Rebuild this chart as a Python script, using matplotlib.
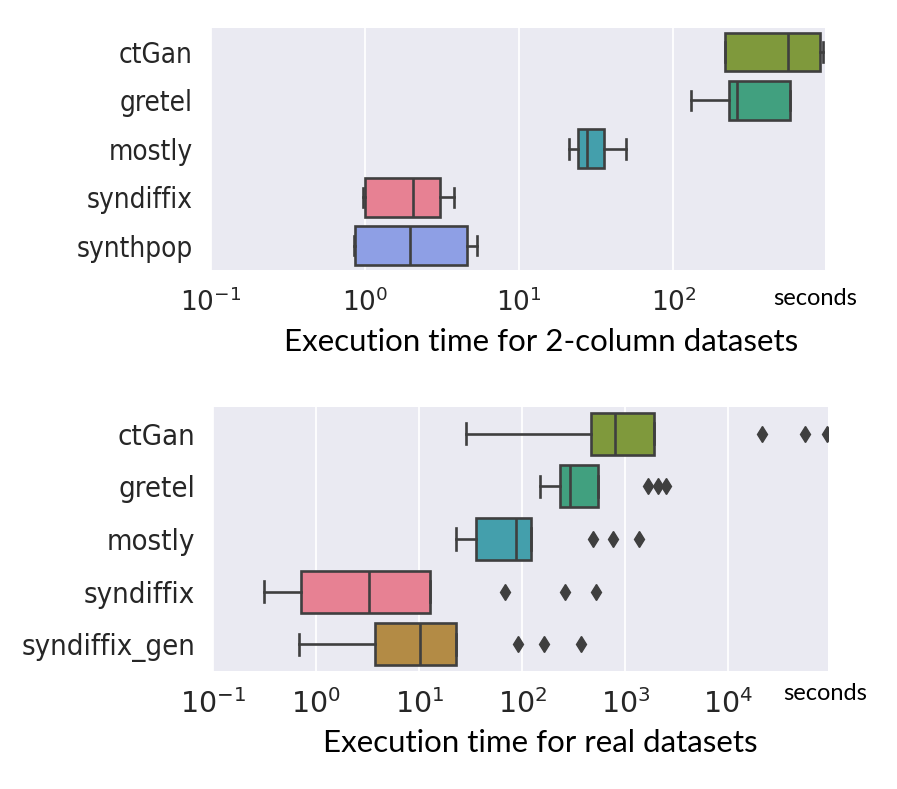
import matplotlib
matplotlib.use("Agg")
import matplotlib.pyplot as plt
import numpy as np

plt.rcParams["mathtext.fontset"] = "custom"
plt.rcParams["mathtext.rm"] = "DejaVu Sans:stretch=condensed"
plt.rcParams["mathtext.it"] = "DejaVu Sans:stretch=condensed:italic"
plt.rcParams["mathtext.bf"] = "DejaVu Sans:stretch=condensed:bold"
plt.rcParams["mathtext.default"] = "rm"

# ---------------- data ----------------
cats_top = ["ctGan", "gretel", "mostly", "syndiffix", "synthpop"]
top_whislo = [217, 129, 21.1, 0.97, 0.845]
top_q1 = [217, 229, 24.0, 1.0, 0.861]
top_med = [550, 257, 27.5, 2.05, 1.97]
top_q3 = [891, 569, 35.6, 3.05, 4.57]
top_whishi = [927, 569, 49.2, 3.79, 5.33]
top_fliers = [[], [], [], [], []]
top_colors = ["#7f993c", "#41a07f", "#449fac", "#e78193", "#8e9fe5"]

cats_bot = ["ctGan", "gretel", "mostly", "syndiffix", "syndiffix_gen"]
bot_whislo = [28.2, 147, 22.5, 0.313, 0.68]
bot_q1 = [459, 230, 35.4, 0.71, 3.68]
bot_med = [791, 288, 87.5, 3.22, 10.1]
bot_q3 = [1880, 537, 120, 12.6, 22.6]
bot_whishi = [1880, 537, 120, 12.6, 22.6]
bot_fliers = [[21200, 55100, 90000],
              [1657, 2090, 2478],
              [481, 752, 1365],
              [68.4, 261, 522],
              [90.2, 162, 370]]
bot_colors = ["#7f993c", "#41a07f", "#449fac", "#e78193", "#b38b45"]

top_xlim = (0.1, 960)
bot_xlim = (0.1, 93300)
title_top = "Execution time for 2-column datasets"
title_bot = "Execution time for real datasets"
unit_label = "seconds"

W, H = 897, 789
fig = plt.figure(figsize=(W / 100, H / 100), dpi=100)
fig.patch.set_facecolor("white")

def px_axes(left, top, right, bottom):
    return fig.add_axes([left / W, (H - bottom) / H, (right - left) / W, (bottom - top) / H])

LINE = "#3f3f3f"

def draw_panel(ax, cats, wlo, q1, med, q3, whi, fliers, colors, xlim, xfs, yfs):
    stats = []
    for i, c in enumerate(cats):
        stats.append(dict(label=c, whislo=wlo[i], q1=q1[i], med=med[i],
                          q3=q3[i], whishi=whi[i], fliers=fliers[i]))
    pos = np.arange(len(cats))
    bp = ax.bxp(stats, positions=pos, widths=0.8, orientation="horizontal",
                patch_artist=True, showfliers=True,
                boxprops=dict(edgecolor=LINE, linewidth=1.9),
                medianprops=dict(color=LINE, linewidth=1.9),
                whiskerprops=dict(color=LINE, linewidth=1.9),
                capprops=dict(color=LINE, linewidth=1.9),
                flierprops=dict(marker="d", markerfacecolor=LINE,
                                markeredgecolor=LINE, markersize=8.5, linestyle="none"))
    for patch, col in zip(bp["boxes"], colors):
        patch.set_facecolor(col)
    ax.set_xscale("log")
    ax.set_xlim(*xlim)
    ax.set_ylim(len(cats) - 0.5, -0.5)
    ax.set_yticks(pos)
    ax.set_yticklabels(cats, fontsize=yfs, fontstretch="condensed",
                       family="DejaVu Sans")
    ax.set_facecolor("#eaeaf2")
    for s in ax.spines.values():
        s.set_visible(False)
    ax.grid(True, axis="x", which="major", color="white", linewidth=1.3)
    ax.grid(False, axis="y")
    ax.set_axisbelow(True)
    ax.xaxis.set_minor_locator(matplotlib.ticker.NullLocator())
    ax.tick_params(axis="both", which="both", length=0, colors="#262626")
    ax.tick_params(axis="x", labelsize=xfs, pad=13)
    ax.tick_params(axis="y", pad=13)

ax1 = px_axes(210.7, 27.7, 825, 270)
draw_panel(ax1, cats_top, top_whislo, top_q1, top_med, top_q3, top_whishi,
           top_fliers, top_colors, top_xlim, 19, 20)

ax2 = px_axes(213.3, 407.3, 828.3, 670.7)
draw_panel(ax2, cats_bot, bot_whislo, bot_q1, bot_med, bot_q3, bot_whishi,
           bot_fliers, bot_colors, bot_xlim, 20.5, 21)

TF = "Lato"
fig.text(541 / W, 1 - 342 / H, title_top, ha="center", va="center",
         fontsize=22.5, family=TF, color="black")
fig.text(540 / W, 1 - 743 / H, title_bot, ha="center", va="center",
         fontsize=22.5, family=TF, color="black")
fig.text(815.5 / W, 1 - 298 / H, unit_label, ha="center", va="center",
         fontsize=17, family=TF, color="black")
fig.text(825.5 / W, 1 - 694 / H, unit_label, ha="center", va="center",
         fontsize=17, family=TF, color="black")

fig.savefig("out.png", dpi=100)
